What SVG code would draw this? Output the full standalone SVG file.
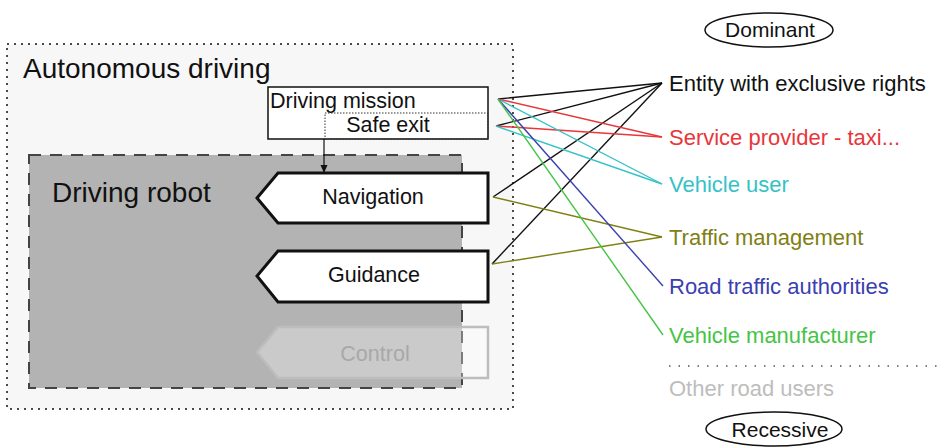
<svg xmlns="http://www.w3.org/2000/svg" width="937" height="447" viewBox="0 0 937 447">
<defs>
<style>
text{font-family:"Liberation Sans",Arial,sans-serif;}
.big{font-size:28px;fill:#111;}
.md{font-size:21.5px;fill:#111;}
.ov{font-size:21px;fill:#111;}
.lbl{font-size:22px;}
.ln{fill:none;stroke-width:1.4;}
</style>
<marker id="arr" markerWidth="8" markerHeight="8" refX="7" refY="4" orient="auto" markerUnits="userSpaceOnUse">
<path d="M0,0.5 L8,4 L0,7.5 Z" fill="#111"/>
</marker>
</defs>
<rect width="937" height="447" fill="#ffffff"/>
<g id="autonomous-driving">
<rect x="7" y="44" width="506" height="365" fill="#f7f7f7" stroke="#111" stroke-width="1.5" stroke-dasharray="2,5"/>
<text class="big" x="23" y="78">Autonomous driving</text>
</g>
<g id="driving-robot">
<rect x="29" y="155" width="433" height="233" fill="#b3b3b3" stroke="#444" stroke-width="2" stroke-dasharray="12,9"/>
<text class="big" x="52" y="202">Driving robot</text>
</g>
<g id="driving-mission">
<rect x="268" y="87" width="220" height="52" fill="#ffffff" stroke="#111" stroke-width="1.5"/>
<text class="md" x="270" y="108">Driving mission</text>
</g>
<g id="safe-exit">
<rect x="325" y="113" width="163" height="26" fill="none" stroke="#333" stroke-width="1" stroke-dasharray="1.5,1.5"/>
<text class="md" x="388" y="132" text-anchor="middle">Safe exit</text>
</g>
<g id="navigation">
<path d="M278,173 L488,173 L488,223 L278,223 L257,198 Z" fill="#ffffff" stroke="#111" stroke-width="3"/>
<text class="md" x="373" y="204" text-anchor="middle">Navigation</text>
</g>
<g id="guidance">
<path d="M278,251 L488,251 L488,302 L278,302 L257,276 Z" fill="#ffffff" stroke="#111" stroke-width="3"/>
<text class="md" x="374" y="282" text-anchor="middle">Guidance</text>
</g>
<g id="control">
<path d="M278,327 L488,327 L488,378 L278,378 L257,352 Z" fill="#ffffff" fill-opacity="0.3" stroke="#bdbdbd" stroke-width="2.5"/>
<text class="md" x="375" y="361" text-anchor="middle" style="fill:#a8a8a8">Control</text>
</g>
<g id="dominant">
<ellipse cx="769" cy="30" rx="64" ry="17" fill="#ffffff" stroke="#111" stroke-width="1.5"/>
<text class="ov" x="770" y="37" text-anchor="middle">Dominant</text>
</g>
<g id="recessive">
<ellipse cx="774" cy="429" rx="68" ry="17" fill="#ffffff" stroke="#111" stroke-width="1.5"/>
<text class="ov" x="780" y="437" text-anchor="middle">Recessive</text>
</g>
<g id="actor-entity"><text class="lbl" x="669" y="91" fill="#111">Entity with exclusive rights</text></g>
<g id="actor-service"><text class="lbl" x="669" y="145" fill="#e8363a">Service provider - taxi...</text></g>
<g id="actor-user"><text class="lbl" x="669" y="192" fill="#35c2c6">Vehicle user</text></g>
<g id="actor-traffic"><text class="lbl" x="669" y="245" fill="#7f8014">Traffic management</text></g>
<g id="actor-road"><text class="lbl" x="669" y="294" fill="#3a40b0">Road traffic authorities</text></g>
<g id="actor-manufacturer"><text class="lbl" x="669" y="343" fill="#45c445">Vehicle manufacturer</text></g>
<g id="other-road-users">
<line x1="669" y1="366" x2="937" y2="366" stroke="#555" stroke-width="1.5" stroke-dasharray="1.5,8"/>
<text class="lbl" x="669" y="396" fill="#bdbdbd">Other road users</text>
</g>
<g id="connectors">
<line x1="324" y1="139" x2="324" y2="172" stroke="#111" stroke-width="1.2" marker-end="url(#arr)"/>
<g class="ln" stroke="#111">
<line x1="498" y1="99" x2="662" y2="83"/>
<line x1="496" y1="126" x2="662" y2="83"/>
<line x1="493" y1="197" x2="662" y2="83"/>
<line x1="492" y1="264" x2="662" y2="83"/>
</g>
<g class="ln" stroke="#e8363a">
<line x1="498" y1="99" x2="662" y2="137"/>
<line x1="496" y1="126" x2="662" y2="137"/>
</g>
<g class="ln" stroke="#35c2c6">
<line x1="498" y1="99" x2="662" y2="184"/>
<line x1="496" y1="126" x2="662" y2="184"/>
</g>
<g class="ln" stroke="#7f8014">
<line x1="493" y1="197" x2="662" y2="237"/>
<line x1="492" y1="264" x2="662" y2="237"/>
</g>
<g class="ln" stroke="#3a40b0">
<line x1="498" y1="99" x2="663" y2="286"/>
</g>
<g class="ln" stroke="#45c445">
<line x1="498" y1="99" x2="663" y2="335"/>
</g>
</g>
</svg>
